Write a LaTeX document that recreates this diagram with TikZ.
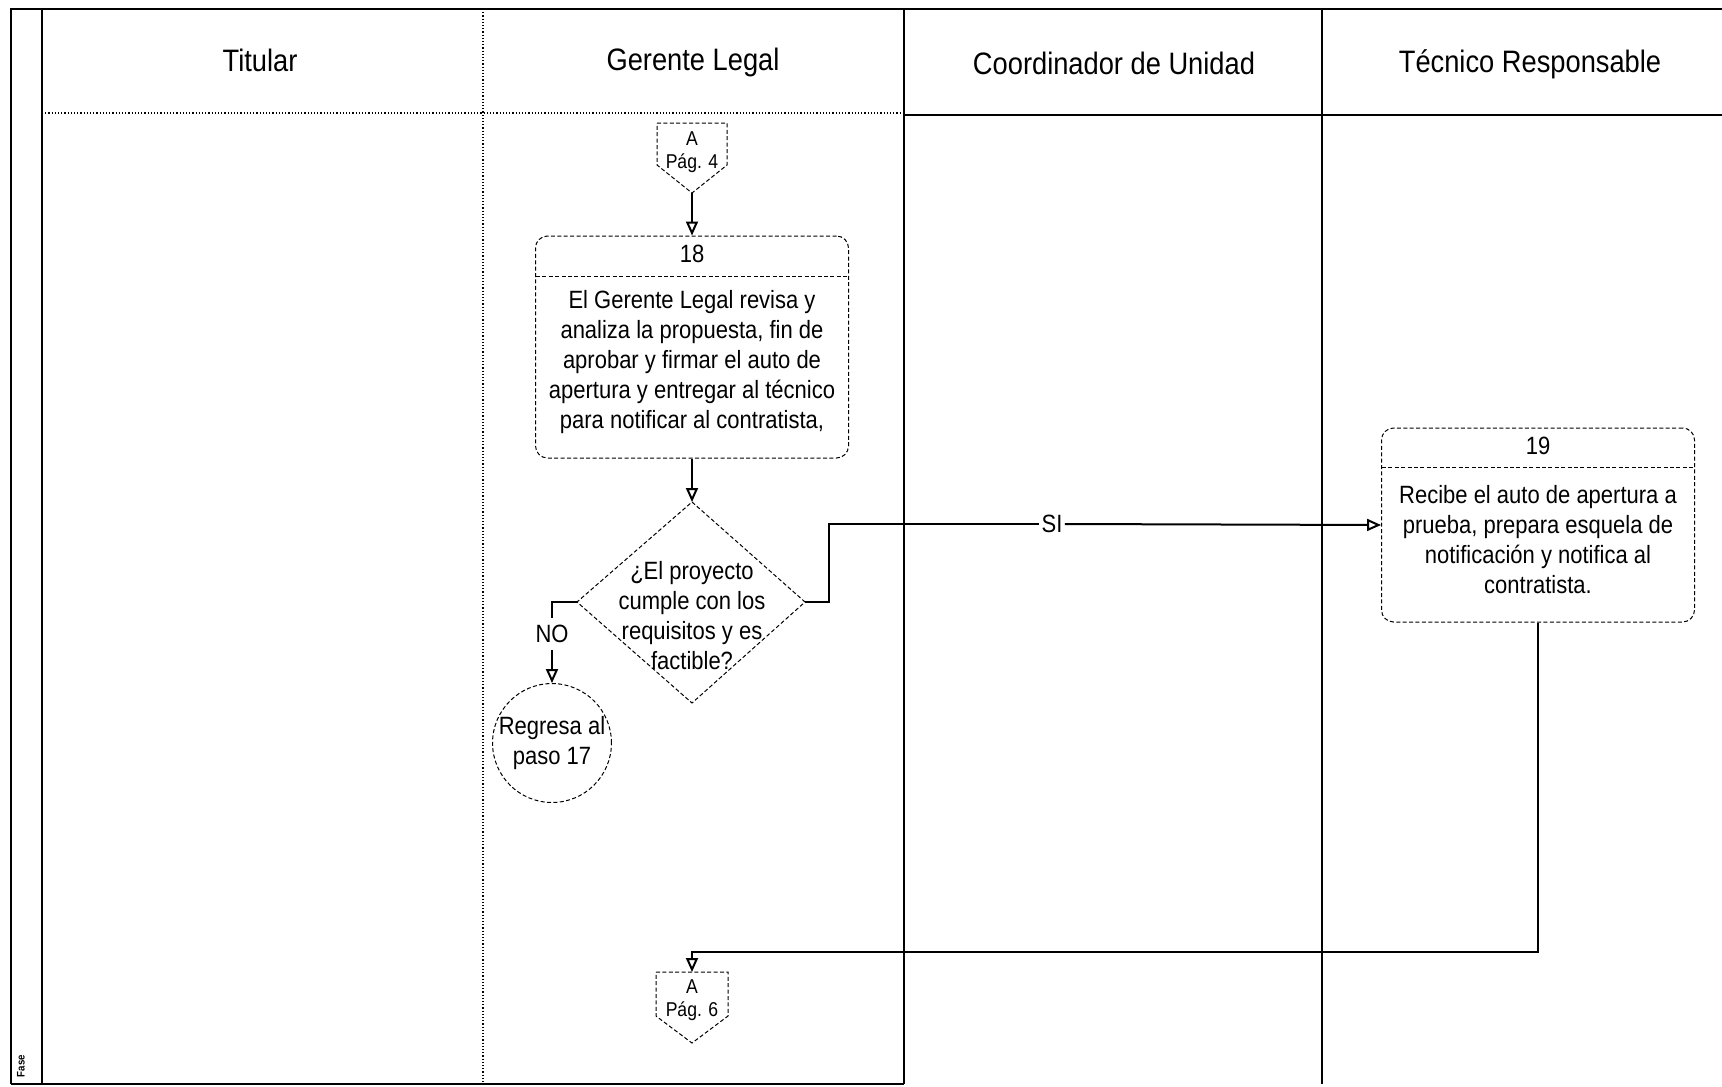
\documentclass[tikz,border=0pt]{standalone}
\usepackage{fontspec}
\setmainfont{Liberation Sans}[FakeStretch=0.88]
\usetikzlibrary{arrows.meta}
\begin{document}
\begin{tikzpicture}[x=0.5pt,y=-0.5pt,
  frame/.style={line width=1.2pt},
  lane/.style={line width=0.8pt},
  laned/.style={line width=0.6pt, densely dotted},
  shp/.style={line width=0.5pt, dash pattern=on 2pt off 1.2pt},
  conn/.style={line width=1pt, -{Triangle[open,length=7pt,width=6pt]}},
  plain/.style={line width=1pt},
  hdr/.style={font=\fontsize{15.5}{18}\selectfont},
  body/.style={font=\fontsize{12.5}{15}\selectfont, align=center},
  smalltxt/.style={font=\fontsize{10}{11.5}\selectfont, align=center},
  procbox/.style={shp, draw, rounded corners=6pt, minimum width=156.5pt, inner sep=0pt}
]
\useasboundingbox (0,0) rectangle (1722,1086);
% frame
\draw[frame] (11,1084) -- (11,9) -- (1722,9);
\draw[frame] (42,9) -- (42,1084);
\draw[frame] (11,1084) -- (904,1084);
\draw[laned] (483,9) -- (483,1084);
\draw[lane] (904,9) -- (904,1084);
\draw[lane] (1322,9) -- (1322,1084);
\draw[laned] (42,113) -- (904,113);
\draw[lane] (904,115) -- (1722,115);
% headers
\node[hdr] (hT) at (260,60) {Titular};
\node[hdr] (hG) at (693,62) {Gerente Legal};
\node[hdr] (hC) at (1114,63) {Coordinador de Unidad};
\node[hdr] (hR) at (1530,64) {Técnico Responsable};
\node[font=\fontsize{5.5}{6}\selectfont\bfseries, rotate=90] (fase) at (21,1066) {Fase};
% off-page A Pag 4
\coordinate (a4tip) at (692,193);
\draw[shp] (657,123) -- (727,123) -- (727,165) -- (a4tip) -- (657,165) -- cycle;
\node[smalltxt] (a4) at (692,152) {A\\Pág. 4};
% box 18
\node[procbox, minimum height=111pt] (b18) at (692,347) {};
\node[body] (n18) at (692,254) {18};
\coordinate (s18l) at (536,276);
\coordinate (s18r) at (849,276);
\draw[shp] (s18l) -- (s18r);
\node[body] (t18) at (692,362) {El Gerente Legal revisa y\\analiza la propuesta, fin de\\aprobar y firmar el auto de\\apertura y entregar al técnico\\para notificar al contratista,};
% decision
\coordinate (dT) at (692,502);
\coordinate (dL) at (577,602);
\coordinate (dR) at (805,602);
\coordinate (dB) at (692,703);
\draw[shp] (dT) -- (dR) -- (dB) -- (dL) -- cycle;
\node[body] (dq) at (692,616) {¿El proyecto\\cumple con los\\requisitos y es\\factible?};
% NO branch
\node[body] (no) at (552,634) {NO};
\node[shp, draw, circle, minimum size=55pt, inner sep=0pt, body] (c17) at (552,743) {Regresa al\\paso 17};
\coordinate (nocorner) at (552,602);
\draw[plain] (dL) -- (nocorner) -- (no.north);
\draw[conn] (no.south) -- (c17.north);
% box 19
\node[procbox, minimum height=97pt] (b19) at (1538,525) {};
\node[body] (n19) at (1538,446) {19};
\coordinate (s19l) at (1382,467);
\coordinate (s19r) at (1695,467);
\draw[shp] (s19l) -- (s19r);
\node[body] (t19) at (1538,540) {Recibe el auto de apertura a\\prueba, prepara esquela de\\notificación y notifica al\\contratista.};
% SI branch
\node[body, inner sep=1pt] (si) at (1052,524) {SI};
\coordinate (sic1) at (829,602);
\coordinate (sic2) at (829,524);
\draw[plain] (dR) -- (sic1) -- (sic2) -- (si.west);
\draw[conn] (si.east) -- (b19.west);
% main flow
\draw[conn] (a4tip) -- (b18.north);
\draw[conn] (b18.south) -- (dT);
% off-page A Pag 6
\coordinate (a6top) at (692,972);
\coordinate (a6tip) at (692,1043);
\draw[shp] (656,972) -- (728,972) -- (728,1016) -- (a6tip) -- (656,1016) -- cycle;
\node[smalltxt] (a6) at (692,1000) {A\\Pág. 6};
\coordinate (ret) at (692,952);
\draw[conn] (b19.south) |- (ret) -- (a6top);
\end{tikzpicture}
\end{document}
